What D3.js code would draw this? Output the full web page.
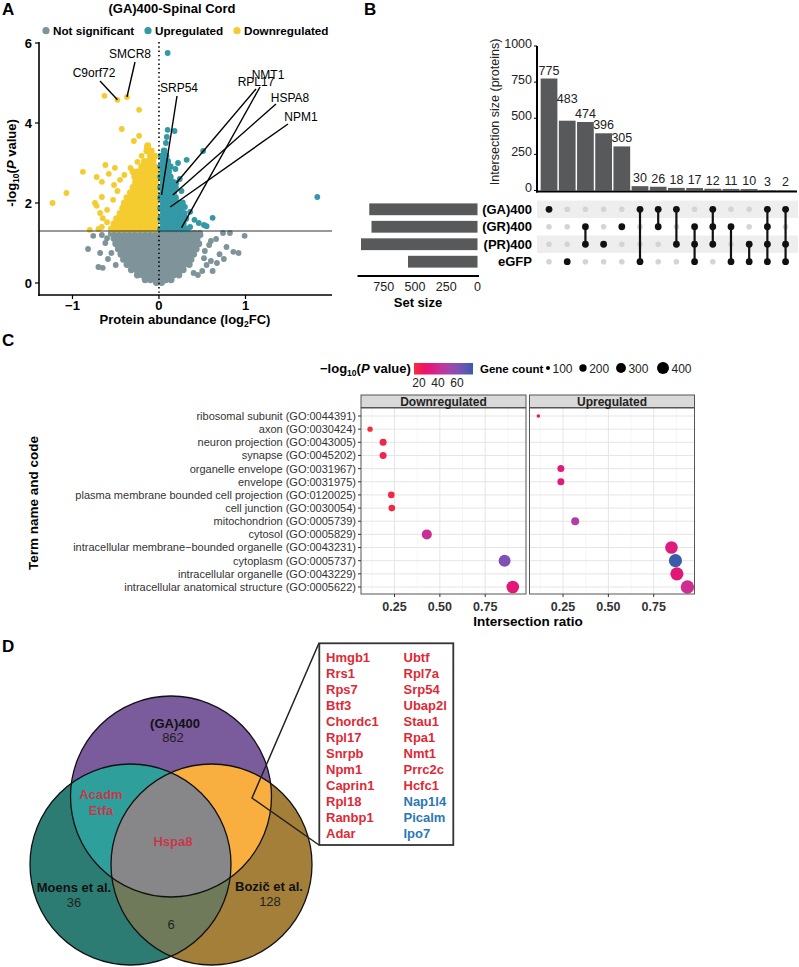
<!DOCTYPE html>
<html>
<head>
<meta charset="utf-8">
<script src="https://cdn.jsdelivr.net/npm/d3@7"></script>
<style>
body { margin: 0; background: #fff; }
svg { display: block; font-family: "Liberation Sans", Arial, sans-serif; }
</style>
</head>
<body>
<svg id="fig" width="799" height="967"></svg>
<script>
// ================= DATA =================

// ---- A: volcano ----
const volcanoGroups = ["Not significant", "Upregulated", "Downregulated"];
const volcanoColors = ["#7e949a", "#3399a6", "#f5cc30"];
const pCutoff = 1.3;

const notSigRows = [
  [1.24, [-0.55, -0.49, -0.43, -0.37, -0.31, -0.25, -0.19, -0.13, -0.07, -0.01, 0.05, 0.11, 0.17, 0.23, 0.29, 0.35, 0.41, 0.47]],
  [1.11, [-0.52, -0.46, -0.40, -0.34, -0.28, -0.22, -0.16, -0.10, -0.04, 0.02, 0.08, 0.14, 0.20, 0.26, 0.32, 0.38, 0.44]],
  [0.98, [-0.50, -0.44, -0.38, -0.32, -0.26, -0.20, -0.14, -0.08, -0.02, 0.04, 0.10, 0.16, 0.22, 0.28, 0.34, 0.40, 0.46]],
  [0.85, [-0.47, -0.41, -0.35, -0.29, -0.23, -0.17, -0.11, -0.05, 0.01, 0.07, 0.13, 0.19, 0.25, 0.31, 0.37, 0.43]],
  [0.72, [-0.44, -0.38, -0.32, -0.26, -0.20, -0.14, -0.08, -0.02, 0.04, 0.10, 0.16, 0.22, 0.28, 0.34, 0.40]],
  [0.59, [-0.41, -0.35, -0.29, -0.23, -0.17, -0.11, -0.05, 0.01, 0.07, 0.13, 0.19, 0.25, 0.31, 0.37]],
  [0.46, [-0.37, -0.31, -0.25, -0.19, -0.13, -0.07, -0.01, 0.05, 0.11, 0.17, 0.23, 0.29, 0.35]],
  [0.33, [-0.32, -0.26, -0.20, -0.14, -0.08, -0.02, 0.04, 0.10, 0.16, 0.22, 0.28]],
  [0.20, [-0.25, -0.19, -0.13, -0.07, -0.01, 0.05, 0.11, 0.17, 0.23]],
  [0.08, [-0.16, -0.10, -0.04, 0.02, 0.08, 0.14]],
  [0.01, [-0.03, 0.03]]
];
const notSigScatter = [
  [0.99, 1.18], [0.82, 1.25], [0.74, 1.25], [0.92, 0.75], [0.86, 0.78], [0.78, 0.90], [0.67, 0.50],
  [0.60, 0.55], [0.55, 0.45], [-0.76, 1.18], [-0.82, 0.85], [-0.68, 0.75], [-0.59, 0.60], [-0.70, 0.40],
  [-0.65, 0.38], [-0.50, 0.45], [-0.62, 1.00], [0.60, 1.05], [0.70, 0.72], [0.50, 0.30], [0.45, 0.20],
  [0.40, 0.25], [0.53, 0.80], [0.58, 0.95], [0.66, 1.10], [-0.66, 1.20], [-0.60, 1.12], [0.52, 0.62],
  [0.48, 1.20], [-0.55, 0.75], [0.75, 0.60], [0.62, 0.30]
];
const downRows = [
  [1.35, [-0.55, -0.49, -0.43, -0.37, -0.31, -0.25, -0.19, -0.13, -0.07, -0.02]],
  [1.48, [-0.52, -0.46, -0.40, -0.34, -0.28, -0.22, -0.16, -0.10, -0.04]],
  [1.61, [-0.49, -0.43, -0.37, -0.31, -0.25, -0.19, -0.13, -0.07, -0.02]],
  [1.74, [-0.45, -0.39, -0.33, -0.27, -0.21, -0.15, -0.09, -0.04]],
  [1.87, [-0.42, -0.36, -0.30, -0.24, -0.18, -0.12, -0.06, -0.02]],
  [2.00, [-0.40, -0.34, -0.28, -0.22, -0.16, -0.10, -0.04]],
  [2.13, [-0.37, -0.31, -0.25, -0.19, -0.13, -0.07, -0.02]],
  [2.26, [-0.33, -0.27, -0.21, -0.15, -0.09, -0.04]],
  [2.39, [-0.30, -0.24, -0.18, -0.12, -0.06, -0.02]],
  [2.52, [-0.27, -0.21, -0.15, -0.09, -0.04]],
  [2.65, [-0.28, -0.22, -0.16, -0.10, -0.05]],
  [2.78, [-0.30, -0.24, -0.18, -0.12, -0.07, -0.03]],
  [2.91, [-0.20, -0.15, -0.10, -0.05]],
  [3.04, [-0.17, -0.12, -0.07]],
  [3.17, [-0.10, -0.05]],
  [3.30, [-0.14, -0.09]],
  [3.43, [-0.13]]
];
const downScatter = [
  [-0.63, 4.68], [-0.23, 4.33], [-0.43, 3.85], [-0.23, 3.68], [-0.29, 3.55], [-0.14, 3.40], [-0.20, 3.18],
  [-1.07, 2.25], [-0.88, 2.78], [-1.23, 2.00], [-0.62, 2.95], [-0.51, 2.88], [-0.58, 2.73], [-0.72, 2.65],
  [-0.66, 2.53], [-0.52, 2.45], [-0.74, 2.00], [-0.72, 1.93], [-0.66, 2.15], [-0.68, 1.75], [-0.65, 1.62],
  [-0.80, 1.33], [-0.70, 1.35], [-0.66, 1.40], [-0.33, 2.88], [-0.25, 3.03], [-0.60, 1.83], [-0.53, 2.08],
  [-0.60, 1.52], [-0.48, 2.30], [-0.45, 2.58], [-0.40, 2.70]
];
const upRows = [
  [1.35, [0.02, 0.08, 0.14, 0.20, 0.26, 0.32]],
  [1.48, [0.05, 0.11, 0.17, 0.23, 0.28]],
  [1.61, [0.02, 0.08, 0.14, 0.20, 0.25, 0.31]],
  [1.74, [0.05, 0.11, 0.17, 0.23, 0.29]],
  [1.87, [0.02, 0.08, 0.14, 0.20, 0.25]],
  [2.00, [0.05, 0.11, 0.17, 0.22, 0.27]],
  [2.13, [0.02, 0.08, 0.14, 0.19]],
  [2.26, [0.05, 0.11, 0.17]],
  [2.39, [0.02, 0.08, 0.14, 0.19]],
  [2.52, [0.05, 0.11, 0.16]],
  [2.65, [0.02, 0.08, 0.13]],
  [2.78, [0.05, 0.11]],
  [2.91, [0.02, 0.08, 0.13]],
  [3.04, [0.05, 0.10]],
  [3.17, [0.03, 0.08]],
  [3.30, [0.06]]
];
const upScatter = [
  [0.10, 5.75], [0.10, 3.83], [0.18, 3.80], [0.09, 3.65], [0.08, 3.50], [0.51, 3.30], [0.32, 3.08],
  [0.22, 3.00], [0.19, 2.85], [0.41, 1.58], [0.62, 1.63], [0.52, 1.45], [0.55, 1.42], [0.36, 1.78],
  [0.46, 1.50], [1.83, 2.15], [0.26, 2.30], [0.24, 2.60], [0.36, 1.40], [0.30, 1.90]
];
const labelledGenes = ["C9orf72", "SMCR8", "SRP54", "NMT1", "RPL17", "HSPA8", "NPM1"];
const labelledFC = [-0.48, -0.37, 0.03, 0.26, 0.20, 0.16, 0.13];
const labelledP = [4.58, 4.65, 2.20, 1.38, 2.50, 2.20, 1.90];

// ---- B: UpSet ----
const upsetSets = ["(GA)400", "(GR)400", "(PR)400", "eGFP"];
const setSizes = [866, 848, 932, 556];
const intersectionSizes = [775, 483, 474, 396, 305, 30, 26, 18, 17, 12, 11, 10, 3, 2];
const intersectionMembers = [[0], [3], [1, 2], [2], [1], [0, 3], [0, 1], [0, 2], [1, 2, 3], [0, 1, 2], [1, 3], [2, 3], [0, 1, 2, 3], [0, 2, 3]];
const intersectionTicks = [0, 250, 500, 750, 1000];
const setSizeTicks = [0, 250, 500, 750];

// ---- C: GO enrichment ----
const goTerms = [
  "ribosomal subunit (GO:0044391)",
  "axon (GO:0030424)",
  "neuron projection (GO:0043005)",
  "synapse (GO:0045202)",
  "organelle envelope (GO:0031967)",
  "envelope (GO:0031975)",
  "plasma membrane bounded cell projection (GO:0120025)",
  "cell junction (GO:0030054)",
  "mitochondrion (GO:0005739)",
  "cytosol (GO:0005829)",
  "intracellular membrane\u2212bounded organelle (GO:0043231)",
  "cytoplasm (GO:0005737)",
  "intracellular organelle (GO:0043229)",
  "intracellular anatomical structure (GO:0005622)"
];
const goDirections = ["Downregulated", "Upregulated"];
const downTermIdx = [1, 2, 3, 6, 7, 9, 11, 13];
const downRatio = [0.115, 0.187, 0.187, 0.232, 0.235, 0.428, 0.857, 0.902];
const downLogP = [14.7, 18, 18, 17, 17, 41, 61, 31];
const downCount = [138, 189, 189, 176, 176, 306, 400, 430];
const upTermIdx = [0, 4, 5, 8, 10, 11, 12, 13];
const upRatio = [0.114, 0.238, 0.238, 0.317, 0.848, 0.870, 0.878, 0.936];
const upLogP = [27, 33, 33, 49, 33.5, 76.8, 31.5, 40];
const upCount = [90, 189, 189, 225, 430, 460, 460, 470];
const sizeLegendValues = [100, 200, 300, 400];
const colorLegendValues = [20, 40, 60];

// ---- D: Venn ----
const vennSets = ["(GA)400", "Moens et al.", "Bozič et al."];
const vennOnlyCounts = [862, 36, 128];
const moensBozicCount = 6;
const gaMoensGenes = ["Acadm", "Etfa"];
const allThreeGenes = ["Hspa8"];
const gaBozicUp = ["Hmgb1", "Rrs1", "Rps7", "Btf3", "Chordc1", "Rpl17", "Snrpb", "Npm1", "Caprin1", "Rpl18", "Ranbp1", "Adar",
                   "Ubtf", "Rpl7a", "Srp54", "Ubap2l", "Stau1", "Rpa1", "Nmt1", "Prrc2c", "Hcfc1"];
const gaBozicDown = ["Nap1l4", "Picalm", "Ipo7"];

// ================= DRAW =================
const svg = d3.select("#fig");
svg.append("rect").attr("width", 799).attr("height", 967).attr("fill", "#fff");
const defs = svg.append("defs");

function addText(g, x, y, str, o = {}) {
  return g.append("text")
    .attr("x", x).attr("y", y)
    .attr("font-size", o.size || 12)
    .attr("font-weight", o.bold ? "bold" : null)
    .attr("text-anchor", o.anchor || "start")
    .attr("fill", o.fill || "#000")
    .text(str);
}

// panel letters
[["A", 2, 15], ["B", 364, 15], ["C", 2, 346], ["D", 2, 652]].forEach(([l, x, y]) =>
  addText(svg, x, y, l, { size: 17, bold: true }));

//////////// A: VOLCANO ////////////
const gA = svg.append("g");
const xA = d3.scaleLinear().domain([-1.387, 2.0]).range([39, 332]);
const yA = d3.scaleLinear().domain([0, 6]).range([283, 43]);

const rowsToPoints = rows => rows.flatMap(([p, fcs]) => fcs.map(fc => [fc, p, true]));
const labelled = labelledGenes.map((g, i) => ({ gene: g, fc: labelledFC[i], p: labelledP[i] }));
const volcanoData = [
  rowsToPoints(notSigRows).concat(notSigScatter),
  rowsToPoints(upRows).concat(upScatter, labelled.filter(d => d.fc > 0).map(d => [d.fc, d.p])),
  rowsToPoints(downRows).concat(downScatter, labelled.filter(d => d.fc < 0).map(d => [d.fc, d.p]))
];

// dense clouds overlap heavily in the original, so their points are drawn a touch larger
[0, 2, 1].forEach(k => {
  gA.append("g").selectAll("circle").data(volcanoData[k]).join("circle")
    .attr("cx", d => xA(d[0])).attr("cy", d => yA(d[1]))
    .attr("r", d => d[2] ? 3.45 : 2.9).attr("fill", volcanoColors[k]);
});

gA.append("line").attr("x1", 39).attr("x2", 332).attr("y1", yA(pCutoff)).attr("y2", yA(pCutoff))
  .attr("stroke", "#333").attr("stroke-width", 1);
gA.append("line").attr("x1", xA(0)).attr("x2", xA(0)).attr("y1", 42).attr("y2", 295)
  .attr("stroke", "#000").attr("stroke-width", 1.6).attr("stroke-dasharray", "1.4,2.9");

// label lines and text
const labelLayout = {
  C9orf72: { tx: 94, ty: 73, lx: 100, ly: 81 },
  SMCR8: { tx: 130, ty: 54, lx: 135, ly: 62 },
  SRP54: { tx: 179, ty: 88, lx: 177, ly: 96 },
  NMT1: { tx: 268, ty: 75, lx: 260, ly: 87 },
  RPL17: { tx: 256, ty: 82, lx: 256, ly: 89 },
  HSPA8: { tx: 290, ty: 98, lx: 276, ly: 104 },
  NPM1: { tx: 301, ty: 117, lx: 288, ly: 124 }
};
labelled.forEach(d => {
  const L = labelLayout[d.gene];
  gA.append("line").attr("x1", L.lx).attr("y1", L.ly).attr("x2", xA(d.fc)).attr("y2", yA(d.p))
    .attr("stroke", "#000").attr("stroke-width", 1.4);
});
labelled.forEach(d => {
  const L = labelLayout[d.gene];
  addText(gA, L.tx, L.ty + 4.3, d.gene, { size: 12, anchor: "middle" });
});

// axes
gA.append("line").attr("x1", 39).attr("x2", 39).attr("y1", 42).attr("y2", 296).attr("stroke", "#000").attr("stroke-width", 1.6);
gA.append("line").attr("x1", 38.2).attr("x2", 332).attr("y1", 295).attr("y2", 295).attr("stroke", "#000").attr("stroke-width", 1.6);
[0, 2, 4, 6].forEach(v => {
  gA.append("line").attr("x1", 35).attr("x2", 39).attr("y1", yA(v)).attr("y2", yA(v)).attr("stroke", "#000").attr("stroke-width", 1.2);
  addText(gA, 32, yA(v) + 4.6, v, { size: 13, bold: true, anchor: "end" });
});
[-1, 0, 1].forEach(v => {
  gA.append("line").attr("x1", xA(v)).attr("x2", xA(v)).attr("y1", 295).attr("y2", 299).attr("stroke", "#000").attr("stroke-width", 1.2);
  addText(gA, xA(v), 309.5, d3.format("d")(v), { size: 13, bold: true, anchor: "middle" });
});
const yTitleA = gA.append("text").attr("transform", "translate(16,163) rotate(-90)")
  .attr("text-anchor", "middle").attr("font-size", 13).attr("font-weight", "bold");
yTitleA.append("tspan").text("-log");
yTitleA.append("tspan").attr("font-size", 8.5).attr("dy", 3).text("10");
yTitleA.append("tspan").attr("dy", -3).text("(");
yTitleA.append("tspan").attr("font-style", "italic").text("P");
yTitleA.append("tspan").text(" value)");
const xTitleA = gA.append("text").attr("x", 185).attr("y", 324)
  .attr("text-anchor", "middle").attr("font-size", 13).attr("font-weight", "bold");
xTitleA.append("tspan").text("Protein abundance (log");
xTitleA.append("tspan").attr("font-size", 8.5).attr("dy", 3).text("2");
xTitleA.append("tspan").attr("dy", -3).text("FC)");

addText(gA, 172, 12.5, "(GA)400-Spinal Cord", { size: 13, bold: true, anchor: "middle" });
const legendAX = [46, 148, 237];
volcanoGroups.forEach((name, i) => {
  gA.append("circle").attr("cx", legendAX[i]).attr("cy", 30.7).attr("r", 3.6).attr("fill", volcanoColors[i]);
  addText(gA, legendAX[i] + 7, 35, name, { size: 11.7, bold: true });
});

//////////// B: UPSET ////////////
const gB = svg.append("g");
const xB = d3.scaleBand().domain(d3.range(intersectionSizes.length)).range([539.2, 795.4]).padding(0.08);
const yB = d3.scaleLinear().domain([0, 1000]).range([190.5, 46]);
const rowB = d3.scalePoint().domain(upsetSets).range([209.3, 261.7]);
const xSet = d3.scaleLinear().domain([0, 960]).range([477.5, 357.5]);
const barGrey = "#58595b";

gB.selectAll("rect.stripe").data(upsetSets.filter((d, i) => i % 2 === 0)).join("rect")
  .attr("class", "stripe")
  .attr("x", 537).attr("width", 261).attr("y", d => rowB(d) - 8.7).attr("height", 17.4).attr("fill", "#eeeeee");

gB.selectAll("rect.bar").data(intersectionSizes).join("rect")
  .attr("class", "bar")
  .attr("x", (d, i) => xB(i)).attr("width", xB.bandwidth())
  .attr("y", d => yB(d)).attr("height", d => yB(0) - yB(d)).attr("fill", barGrey);

const barLabelNudge = { 1: -14 };
intersectionSizes.forEach((v, i) => {
  addText(gB, xB(i) + xB.bandwidth() / 2, yB(v) - 4 + (barLabelNudge[i] || 0), v, { size: 12.5, anchor: "middle", fill: "#222" });
});

gB.append("line").attr("x1", 537).attr("x2", 537).attr("y1", yB(1000)).attr("y2", 192.5).attr("stroke", "#000").attr("stroke-width", 2);
gB.append("line").attr("x1", 536).attr("x2", 797).attr("y1", 191.5).attr("y2", 191.5).attr("stroke", "#000").attr("stroke-width", 2);
intersectionTicks.forEach(v => {
  gB.append("line").attr("x1", 534).attr("x2", 537).attr("y1", yB(v)).attr("y2", yB(v)).attr("stroke", "#000");
  addText(gB, 532, yB(v) + 1.5, v, { size: 12.5, anchor: "end", fill: "#222" });
});
addText(gB, 0, 0, "Intersection size (proteins)", { size: 12.5, anchor: "middle", fill: "#222" })
  .attr("transform", "translate(499,112) rotate(-90)");

// matrix
intersectionMembers.forEach((mem, i) => {
  const cx = xB(i) + xB.bandwidth() / 2;
  upsetSets.forEach((s, j) => {
    if (!mem.includes(j)) {
      gB.append("circle").attr("cx", cx).attr("cy", rowB(s)).attr("r", 2.8).attr("fill", "#d4d4d4");
    }
  });
  if (mem.length > 1) {
    gB.append("line").attr("x1", cx).attr("x2", cx)
      .attr("y1", rowB(upsetSets[d3.min(mem)])).attr("y2", rowB(upsetSets[d3.max(mem)]))
      .attr("stroke", "#111").attr("stroke-width", 2.2);
  }
  mem.forEach(j => {
    gB.append("circle").attr("cx", cx).attr("cy", rowB(upsetSets[j])).attr("r", 3.4).attr("fill", "#111");
  });
});
upsetSets.forEach(s => addText(gB, 532, rowB(s) + 4.6, s, { size: 13, bold: true, anchor: "end" }));

// set sizes
gB.selectAll("rect.set").data(setSizes).join("rect")
  .attr("class", "set")
  .attr("x", d => xSet(d)).attr("width", d => xSet(0) - xSet(d))
  .attr("y", (d, i) => rowB(upsetSets[i]) - 5.9).attr("height", 11.8).attr("fill", barGrey);
gB.append("line").attr("x1", xSet(960)).attr("x2", 479).attr("y1", 276).attr("y2", 276).attr("stroke", "#000").attr("stroke-width", 2);
setSizeTicks.forEach(v => addText(gB, xSet(v), 291, v, { size: 12.5, anchor: "middle", fill: "#222" }));
addText(gB, 418, 306.5, "Set size", { size: 13, bold: true, anchor: "middle" });

//////////// C: GO DOT PLOT ////////////
const gC = svg.append("g");
const yC = d3.scalePoint().domain(goTerms).range([416, 587]);
const colC = d3.scaleLinear().domain([14.7, 76.8]).range(["#f42f3b", "#3a5ca9"]).interpolate(d3.interpolateHcl);
const rC = d3.scaleSqrt().domain([100, 400]).range([2, 6]);

const goData = {
  Downregulated: downTermIdx.map((t, i) => ({ term: goTerms[t], ratio: downRatio[i], logp: downLogP[i], count: downCount[i] })),
  Upregulated: upTermIdx.map((t, i) => ({ term: goTerms[t], ratio: upRatio[i], logp: upLogP[i], count: upCount[i] }))
};
const facetRange = { Downregulated: [361, 526], Upregulated: [529.5, 694.5] };
const panelTop = 408, panelBottom = 594;

goDirections.forEach(dir => {
  const [x0, x1] = facetRange[dir];
  const xC = d3.scaleLinear().domain([0.065, 0.975]).range([x0, x1]);
  const p = gC.append("g");
  p.append("rect").attr("x", x0).attr("y", panelTop).attr("width", x1 - x0).attr("height", panelBottom - panelTop).attr("fill", "#fff");
  [0.125, 0.375, 0.625, 0.875].forEach(v => p.append("line").attr("x1", xC(v)).attr("x2", xC(v)).attr("y1", panelTop).attr("y2", panelBottom).attr("stroke", "#f2f2f2").attr("stroke-width", 0.7));
  [0.25, 0.5, 0.75].forEach(v => p.append("line").attr("x1", xC(v)).attr("x2", xC(v)).attr("y1", panelTop).attr("y2", panelBottom).attr("stroke", "#e5e5e5").attr("stroke-width", 1));
  goTerms.forEach(t => p.append("line").attr("x1", x0).attr("x2", x1).attr("y1", yC(t)).attr("y2", yC(t)).attr("stroke", "#e5e5e5").attr("stroke-width", 1));
  p.selectAll("circle").data(goData[dir]).join("circle")
    .attr("cx", d => xC(d.ratio)).attr("cy", d => yC(d.term))
    .attr("r", d => rC(d.count)).attr("fill", d => colC(d.logp));
  p.append("rect").attr("x", x0).attr("y", panelTop).attr("width", x1 - x0).attr("height", panelBottom - panelTop)
    .attr("fill", "none").attr("stroke", "#555").attr("stroke-width", 1);
  // strip
  p.append("rect").attr("x", x0).attr("y", 395).attr("width", x1 - x0).attr("height", 12.5)
    .attr("fill", "#d9d9d9").attr("stroke", "#555").attr("stroke-width", 1);
  addText(p, (x0 + x1) / 2, 405.5, dir, { size: 12, bold: true, anchor: "middle", fill: "#222" });
  [0.25, 0.5, 0.75].forEach(v => {
    p.append("line").attr("x1", xC(v)).attr("x2", xC(v)).attr("y1", panelBottom).attr("y2", panelBottom + 3).attr("stroke", "#333");
    addText(p, xC(v), 611, d3.format(".2f")(v), { size: 12.5, bold: true, anchor: "middle", fill: "#333" });
  });
});
goTerms.forEach(t => {
  gC.append("line").attr("x1", 358).attr("x2", 361).attr("y1", yC(t)).attr("y2", yC(t)).attr("stroke", "#333");
  addText(gC, 356, yC(t) + 3.9, t, { size: 11, anchor: "end", fill: "#333" });
});
addText(gC, 528, 625.5, "Intersection ratio", { size: 13.5, bold: true, anchor: "middle" });
addText(gC, 0, 0, "Term name and code", { size: 13.5, bold: true, anchor: "middle" })
  .attr("transform", "translate(38,503) rotate(-90)");

// legends
const lt = gC.append("text").attr("x", 320).attr("y", 372.5).attr("font-size", 13).attr("font-weight", "bold");
lt.append("tspan").text("\u2212log");
lt.append("tspan").attr("font-size", 8.5).attr("dy", 3).text("10");
lt.append("tspan").attr("dy", -3).text("(");
lt.append("tspan").attr("font-style", "italic").text("P");
lt.append("tspan").text(" value)");
const grad = defs.append("linearGradient").attr("id", "pgrad");
d3.range(0, 1.01, 0.1).forEach(t => grad.append("stop").attr("offset", t).attr("stop-color", colC(14.7 + t * (76.8 - 14.7))));
const xLeg = d3.scaleLinear().domain([14.7, 76.8]).range([414, 473]);
gC.append("rect").attr("x", xLeg(14.7)).attr("y", 363).attr("width", xLeg(76.8) - xLeg(14.7)).attr("height", 11.5).attr("fill", "url(#pgrad)");
colorLegendValues.forEach(v => addText(gC, xLeg(v), 386.5, v, { size: 12, anchor: "middle", fill: "#222" }));
addText(gC, 480, 372.5, "Gene count", { size: 11.5, bold: true });
const sizeKeyX = [548, 583, 621, 663];
sizeLegendValues.forEach((v, i) => {
  gC.append("circle").attr("cx", sizeKeyX[i]).attr("cy", 368).attr("r", rC(v)).attr("fill", "#000");
  addText(gC, sizeKeyX[i] + rC(v) + 2.5, 372.5, v, { size: 12, fill: "#222" });
});

//////////// D: VENN ////////////
const gD = svg.append("g");
const circ = {
  top: { cx: 171, cy: 796.5, r: 100.5 },
  left: { cx: 130.5, cy: 864.5, r: 100.5 },
  right: { cx: 211.5, cy: 864.5, r: 100.5 }
};
const vennColors = {
  top: "#7a5b9b", left: "#2d7c73", right: "#a37f39",
  topLeft: "#2f9f9b", topRight: "#f9ae40", leftRight: "#6e7a59", all: "#87878a"
};
["top", "left"].forEach(k => defs.append("clipPath").attr("id", "clip-" + k)
  .append("circle").attr("cx", circ[k].cx).attr("cy", circ[k].cy).attr("r", circ[k].r));
const drawCircle = (g, k, fill) => g.append("circle").attr("cx", circ[k].cx).attr("cy", circ[k].cy).attr("r", circ[k].r).attr("fill", fill);

drawCircle(gD, "top", vennColors.top);
drawCircle(gD, "left", vennColors.left);
drawCircle(gD, "right", vennColors.right);
drawCircle(gD, "left", vennColors.topLeft).attr("clip-path", "url(#clip-top)");
drawCircle(gD, "right", vennColors.topRight).attr("clip-path", "url(#clip-top)");
drawCircle(gD, "right", vennColors.leftRight).attr("clip-path", "url(#clip-left)");
drawCircle(gD.append("g").attr("clip-path", "url(#clip-top)"), "right", vennColors.all).attr("clip-path", "url(#clip-left)");
["top", "left", "right"].forEach(k => drawCircle(gD, k, "none").attr("stroke", "#111").attr("stroke-width", 1.3));

const vennRed = "#c7374c";
addText(gD, 175, 727.7, vennSets[0], { size: 13, bold: true, anchor: "middle", fill: "#111" });
addText(gD, 173, 742.2, vennOnlyCounts[0], { size: 13, anchor: "middle", fill: "#222" });
addText(gD, 74, 891.7, vennSets[1], { size: 13, bold: true, anchor: "middle", fill: "#111" });
addText(gD, 74, 907.4, vennOnlyCounts[1], { size: 13, anchor: "middle", fill: "#222" });
addText(gD, 269, 891.4, vennSets[2], { size: 13, bold: true, anchor: "middle", fill: "#111" });
addText(gD, 270, 906.4, vennOnlyCounts[2], { size: 13, anchor: "middle", fill: "#222" });
addText(gD, 171, 928.7, moensBozicCount, { size: 13, anchor: "middle", fill: "#222" });
gaMoensGenes.forEach((g, i) => addText(gD, 101, 798.7 + i * 16.7, g, { size: 13, bold: true, anchor: "middle", fill: vennRed }));
allThreeGenes.forEach(g => addText(gD, 173, 845.7, g, { size: 13, bold: true, anchor: "middle", fill: vennRed }));

// callout
gD.append("path").attr("d", "M319,643 L252,798 L319,845").attr("fill", "none").attr("stroke", "#222").attr("stroke-width", 1.5);
gD.append("rect").attr("x", 319.3).attr("y", 643.3).attr("width", 134).attr("height", 201.7)
  .attr("fill", "#fff").attr("stroke", "#333").attr("stroke-width", 1.8);
const calloutGenes = gaBozicUp.map(g => ({ g, c: "#dd2a36" })).concat(gaBozicDown.map(g => ({ g, c: "#2b78b5" })));
calloutGenes.forEach((d, i) => {
  const col = Math.floor(i / 12), row = i % 12;
  addText(gD, col === 0 ? 326 : 403.5, 661.5 + row * 16, d.g, { size: 13, bold: true, fill: d.c });
});
</script>
</body>
</html>
